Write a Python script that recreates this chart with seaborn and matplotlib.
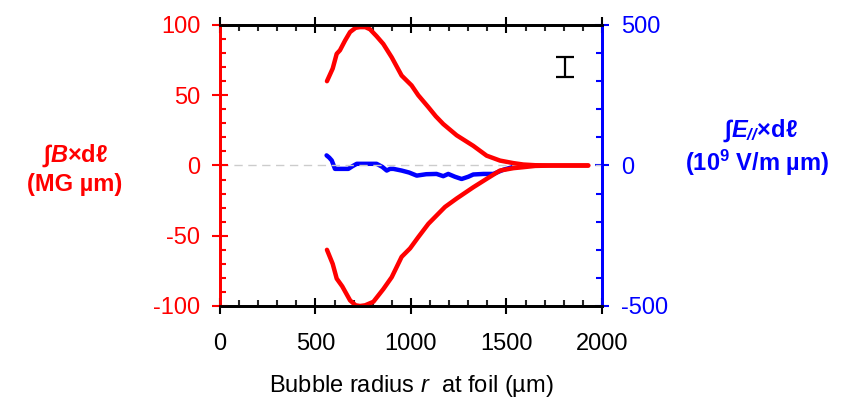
import numpy as np
import pandas as pd
import seaborn as sns
import matplotlib
matplotlib.use("Agg")
import matplotlib.pyplot as plt
from matplotlib.ticker import MultipleLocator

# upper branch of integral B x dl (MG um)
x_upper = [560, 590, 611, 628, 655, 681, 710, 733, 760, 785, 820, 855, 899, 951, 1003, 1038,
           1091, 1130, 1169, 1239, 1326, 1396, 1466, 1536, 1588, 1650, 1750, 1850, 1928]
b_upper = [60, 69, 79.5, 82, 89, 95, 98, 98.5, 98.5, 97, 92, 86.5, 77, 64, 57, 50,
           41.5, 35, 29.5, 21.5, 14, 7, 3.5, 1.7, 0.7, 0.2, 0, 0, 0]

# lower branch
x_lower = [560, 590, 611, 640, 681, 710, 733, 760, 803, 855, 899, 951, 995, 1038,
           1091, 1178, 1239, 1326, 1396, 1466, 1536, 1588, 1650, 1750, 1850, 1928]
b_lower = [-60, -70, -80.5, -86, -96, -99.5, -100, -99.5, -97, -88, -79.5, -65, -59, -51,
           -41.5, -29.5, -23.5, -15.5, -9.5, -3.6, -1.9, -1.2, -0.3, 0, 0, 0]

# integral E_par x dl (1e9 V/m um)
x_e = [558, 572, 585, 602, 640, 672, 695, 716, 760, 820, 850, 873, 890, 908, 951,
       990, 1030, 1080, 1134, 1169, 1195, 1230, 1265, 1300, 1326, 1380, 1431, 1484, 1536, 1570]
e_par = [36, 28, 18, -12, -12, -12, -2, 6, 6, 6, -5, -18, -12, -12, -18,
         -25, -36, -31, -30, -38, -30, -40, -48, -40, -32, -30, -30, -15, -5, 0]

# error bar
err_x = [1806]
err_y = [70]
err_half = [7.3]

sns.set_theme(style="white")
plt.rcParams['font.family'] = ['Liberation Sans', 'DejaVu Sans']
plt.rcParams['axes.unicode_minus'] = False
plt.rcParams['mathtext.fontset'] = 'custom'
plt.rcParams['mathtext.rm'] = 'Liberation Sans'
plt.rcParams['mathtext.it'] = 'Liberation Sans:italic'
plt.rcParams['mathtext.bf'] = 'Liberation Sans:bold'
plt.rcParams['mathtext.bfit'] = 'Liberation Sans:italic:bold'

red = '#ff0000'
blue = '#0000ff'
fs = 17

fig = plt.figure(figsize=(8.54, 4.03), dpi=100)
ax = fig.add_axes([220 / 854, 1 - 306 / 403, 382 / 854, 281 / 403])
ax2 = ax.twinx()

up = pd.DataFrame({'x': x_upper, 'y': b_upper})
lo = pd.DataFrame({'x': x_lower, 'y': b_lower})
ed = pd.DataFrame({'x': x_e, 'y': e_par})

ax.axhline(0, color='#cccccc', lw=1, ls=(0, (6, 4)), zorder=0)
sns.lineplot(data=ed, x='x', y='y', ax=ax2, color=blue, lw=3.2, sort=False)
sns.lineplot(data=up, x='x', y='y', ax=ax, color=red, lw=3.2, sort=False)
sns.lineplot(data=lo, x='x', y='y', ax=ax, color=red, lw=3.2, sort=False)
ax.set_zorder(ax2.get_zorder() + 1)
ax.patch.set_visible(False)

ax.errorbar(err_x, err_y, yerr=err_half, fmt='none', ecolor='black', elinewidth=1.6,
            capsize=6.5, capthick=1.6)

ax.set_xlim(0, 2000)
ax.set_ylim(-100, 100)
ax2.set_ylim(-500, 500)

ax.xaxis.set_major_locator(MultipleLocator(500))
ax.xaxis.set_minor_locator(MultipleLocator(100))
ax.yaxis.set_major_locator(MultipleLocator(50))
ax.yaxis.set_minor_locator(MultipleLocator(10))
ax2.yaxis.set_major_locator(MultipleLocator(500))
ax2.yaxis.set_minor_locator(MultipleLocator(100))

for a in (ax, ax2):
    for s in a.spines.values():
        s.set_linewidth(2)
        s.set_color('black')
ax.spines['left'].set_color(red)
ax2.spines['left'].set_color(red)
ax.spines['right'].set_color(blue)
ax2.spines['right'].set_color(blue)

ax.tick_params(axis='x', which='major', direction='inout', length=11.5, width=1.5,
               top=True, bottom=True, labeltop=False, colors='black', labelsize=fs, pad=14)
ax.tick_params(axis='x', which='minor', direction='in', length=4.3, width=1.5,
               top=True, bottom=True)
ax.tick_params(axis='y', which='major', direction='inout', length=11.5, width=1.5,
               colors=red, labelsize=fs, pad=8.5, left=True, right=False)
ax.tick_params(axis='y', which='minor', direction='in', length=4.3, width=1.5,
               color=red, left=True, right=False)
ax2.tick_params(axis='y', which='major', direction='inout', length=10, width=1.5,
                colors=blue, labelsize=fs, pad=9)
ax2.tick_params(axis='y', which='minor', direction='in', length=4, width=1.5, color=blue)

ax.set_xlabel("Bubble radius $\\it{r}$  at foil (µm)", fontsize=fs, color='black', labelpad=13)
ax.set_ylabel('')
ax2.set_ylabel('')

fig.text(75 / 854, 1 - 156 / 403, "∫$\\mathbfit{B}$×dℓ", color=red, fontsize=fs,
         fontweight='bold', ha='center', va='center')
fig.text(75 / 854, 1 - 184 / 403, "(MG µm)", color=red, fontsize=fs,
         fontweight='bold', ha='center', va='center')
fig.text(760 / 854, 1 - 131 / 403, "∫$\\mathbfit{E}_{\\mathbfit{//}}$×dℓ", color=blue,
         fontsize=fs, fontweight='bold', ha='center', va='center')
fig.text(757 / 854, 1 - 163 / 403, "(10$^{\\mathbf{9}}$ V/m µm)", color=blue, fontsize=fs,
         fontweight='bold', ha='center', va='center')

fig.savefig('out.png', dpi=100)
